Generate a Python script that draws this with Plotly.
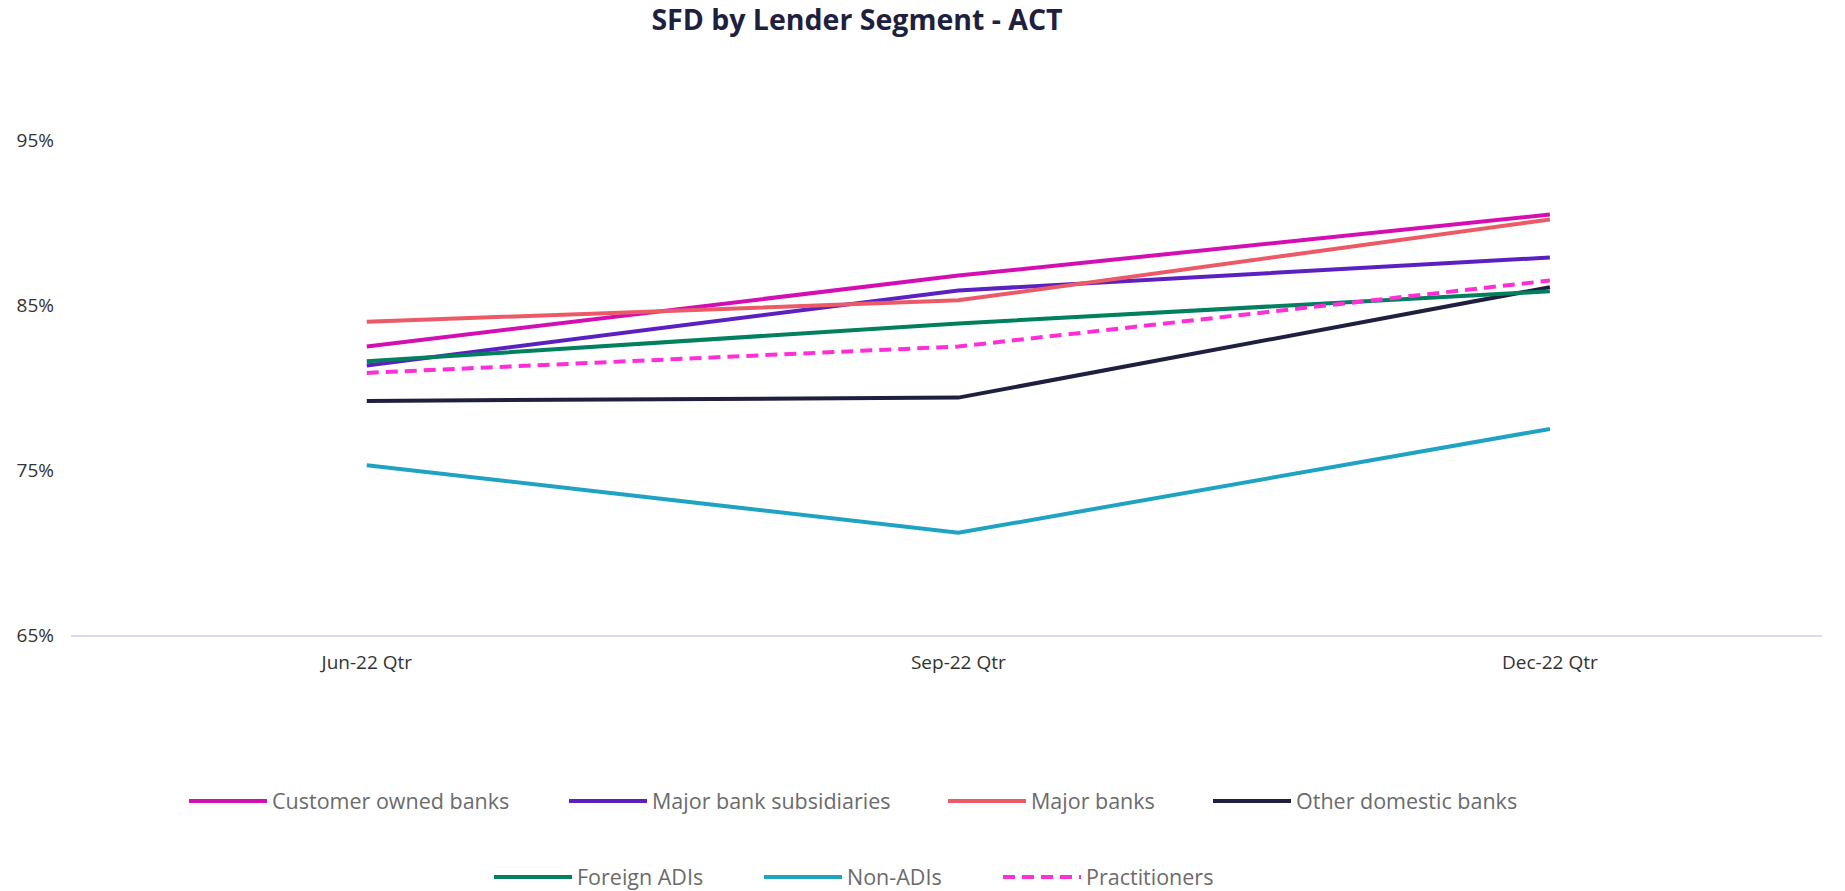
import plotly.graph_objects as go

quarters = ["Jun-22 Qtr", "Sep-22 Qtr", "Dec-22 Qtr"]

customer_owned = [82.5, 86.8, 90.5]
major_bank_subs = [81.35, 85.9, 87.9]
major_banks = [84.0, 85.3, 90.2]
other_domestic = [79.2, 79.4, 86.1]
foreign_adis = [81.6, 83.9, 85.85]
non_adis = [75.3, 71.2, 77.5]
practitioners = [80.9, 82.5, 86.5]

y_ticks = [65, 75, 85, 95]
y_tick_labels = ["65%", "75%", "85%", "95%"]

series_names = ["Customer owned banks", "Major bank subsidiaries", "Major banks",
                "Other domestic banks", "Foreign ADIs", "Non-ADIs", "Practitioners"]
series_values = [customer_owned, major_bank_subs, major_banks, other_domestic,
                 foreign_adis, non_adis, practitioners]
series_colors = ["#d30fb4", "#5b21c0", "#eb5a66", "#1f1f40", "#00805e", "#1fa3c3", "#ff2ed6"]
series_dash = ["solid", "solid", "solid", "solid", "solid", "solid", "12px,7px"]

# legend entry placement (container pixels): left edge of symbol, row centre y
legend_left_px = [189, 569, 948, 1213, 494, 764, 1003]
legend_row_px = [801, 801, 801, 801, 877, 877, 877]

W, H = 1845, 891
font_family = "Open Sans, sans-serif"

fig = go.Figure()
layout_legends = {}
for i, (name, vals, color, dash) in enumerate(zip(series_names, series_values, series_colors, series_dash)):
    leg_id = "legend" if i == 0 else f"legend{i + 1}"
    fig.add_trace(go.Scatter(
        x=quarters, y=vals, name=name, mode="lines",
        line=dict(color=color, width=4, dash=dash),
        legend=leg_id,
    ))
    layout_legends[leg_id] = dict(
        orientation="h", xref="container", yref="container",
        x=(legend_left_px[i] - 5) / W, xanchor="left",
        y=1 - legend_row_px[i] / H, yanchor="middle",
        font=dict(family=font_family, size=21.5, color="#6b6b6b"),
        bgcolor="rgba(0,0,0,0)", itemwidth=78, borderwidth=0,
    )

fig.update_layout(
    width=W, height=H,
    paper_bgcolor="white", plot_bgcolor="white",
    margin=dict(l=71, r=23, t=58, b=256, autoexpand=False),
    title=dict(
        text="<b>SFD by Lender Segment - ACT</b>",
        x=0.4645, xref="container", xanchor="center",
        y=1 - 20 / H, yref="container", yanchor="middle",
        font=dict(family="Open Sans, sans-serif", size=28.5, color="#1f1f40"),
    ),
    xaxis=dict(
        type="category", range=[-0.5, 2.46],
        showgrid=False, showline=True, linecolor="#dcd8ee", linewidth=1.5,
        ticks="", tickfont=dict(family=font_family, size=19, color="#333333"),
        zeroline=False, ticklabelstandoff=9,
    ),
    yaxis=dict(
        range=[65, 100], tickvals=y_ticks, ticktext=y_tick_labels,
        showgrid=False, zeroline=False, showline=False, ticks="",
        tickfont=dict(family=font_family, size=19, color="#333333"),
        ticklabelstandoff=16,
    ),
    showlegend=True,
    **layout_legends,
)

fig.write_html(
    "out.html",
    config={"displayModeBar": False},
    post_script="document.body.style.margin='0';document.body.style.overflow='hidden';",
)
